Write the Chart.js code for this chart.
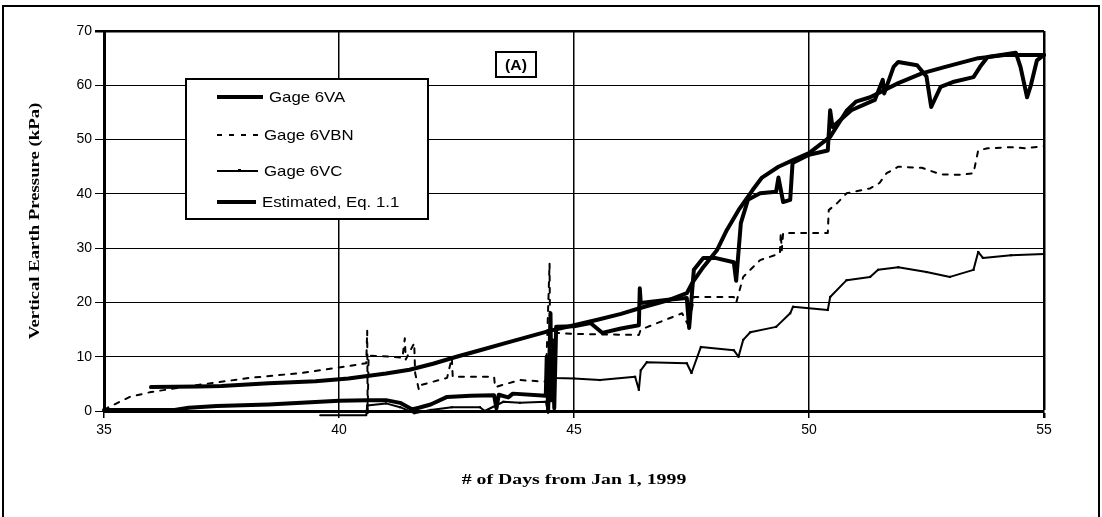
<!DOCTYPE html>
<html lang="en">
<head>
  <meta charset="UTF-8" />
  <title>Vertical Earth Pressure (A)</title>
  <script src="https://cdn.jsdelivr.net/npm/chart.js"></script>
  <style>
    body { margin: 0; background: #fff; }
    #wrap { width: 1102px; height: 517px; }
  </style>
</head>
<body>
  <div id="wrap"><canvas id="pressureChart" width="1102" height="517"></canvas></div>

  <script>
    // readings taken off the original plot: days from Jan 1 1999 / kPa
    const vaDays = [35.0, 36.5, 36.8, 37.4, 38.5, 39.2, 40.0, 40.6, 41.0, 41.3, 41.55, 41.7, 41.95, 42.3, 42.8, 43.3, 43.35, 43.4, 43.6, 43.7, 44.4, 44.42, 44.45, 44.5, 44.52, 44.55, 44.58, 44.62, 45.0, 45.35, 45.6, 46.0, 46.38, 46.4, 46.42, 47.0, 47.4, 47.45, 47.55, 47.75, 48.0, 48.4, 48.45, 48.55, 48.7, 48.96, 49.3, 49.35, 49.45, 49.6, 49.65, 50.0, 50.4, 50.45, 50.5, 50.9, 51.4, 51.57, 51.6, 51.8, 51.9, 52.3, 52.5, 52.6, 52.8, 53.06, 53.5, 53.64, 53.8, 54.4, 54.5, 54.64, 54.72, 54.85, 55.0];
    const vaKpa  = [0.2, 0.2, 0.6, 0.9, 1.2, 1.5, 1.9, 2.0, 2.0, 1.5, 0.3, 0.6, 1.2, 2.6, 2.8, 2.9, 0.5, 3.0, 2.5, 3.2, 2.8, 10, 0, 18, 2, 13, 0.5, 15.5, 15.6, 16.2, 14.4, 15.2, 15.8, 22.6, 19.9, 20.5, 20.8, 15.3, 26, 28.2, 28.2, 27.4, 24, 34.6, 38.9, 40.1, 40.4, 43, 38.5, 38.9, 45.7, 47.2, 48, 55.4, 52.3, 55.4, 57.3, 61, 58.5, 63.4, 64.3, 63.7, 61.6, 56, 59.7, 60.6, 61.5, 63.4, 65.2, 66, 63.4, 57.8, 60, 64.6, 65.6];

    const vbnDays = [35.0, 35.1, 35.55, 36.0, 37.0, 38.1, 39.2, 40.0, 40.58, 40.6, 40.61, 40.63, 41.1, 41.35, 41.4, 41.42, 41.6, 41.62, 41.7, 41.75, 42.3, 42.4, 42.42, 43.3, 43.32, 43.6, 43.85, 44.4, 44.48, 44.5, 44.6, 45.0, 46.38, 46.42, 47.3, 47.45, 47.55, 48.4, 48.45, 48.6, 48.75, 48.96, 49.38, 49.4, 49.42, 49.45, 50.4, 50.42, 50.6, 50.8, 51.3, 51.5, 51.65, 51.9, 52.4, 52.8, 53.2, 53.5, 53.6, 53.8, 54.3, 54.6, 55.0];
    const vbnKpa  = [0.2, 0.7, 2.6, 3.5, 4.8, 6.1, 7.0, 8.0, 8.8, 14.8, -0.5, 10.2, 10.0, 9.8, 13.4, 9.5, 12.5, 7.0, 3.9, 4.8, 6.1, 9.8, 6.3, 6.3, 4.4, 5.1, 5.7, 5.4, 27.2, 3, 14.4, 14.2, 14.0, 15, 18, 15.5, 21, 21, 19.9, 24.7, 26, 27.8, 29, 32.8, 29.6, 32.8, 32.8, 37, 38.3, 40.1, 41, 42, 43.8, 45, 44.8, 43.6, 43.5, 43.8, 48, 48.4, 48.6, 48.4, 48.8];

    const vcDays = [39.6, 40.58, 40.6, 41.0, 41.3, 41.6, 41.95, 42.4, 43.0, 43.1, 43.5, 43.85, 44.4, 44.45, 44.55, 44.6, 45.0, 45.55, 46.3, 46.38, 46.42, 46.55, 47.4, 47.5, 47.7, 48.4, 48.5, 48.6, 48.75, 49.3, 49.6, 49.66, 50.4, 50.45, 50.8, 51.3, 51.47, 51.9, 52.5, 53.0, 53.5, 53.6, 53.7, 54.3, 55.0];
    const vcKpa  = [-0.8, -0.8, 1.0, 1.4, 0.7, -0.4, 0.2, 0.7, 0.7, 0.0, 1.7, 1.5, 1.7, -0.3, 8, 6.1, 6.0, 5.7, 6.3, 3.9, 7.5, 9.0, 8.8, 7.0, 11.8, 11.2, 10.0, 13.1, 14.5, 15.5, 18, 19.2, 18.6, 21, 24.1, 24.7, 26, 26.5, 25.6, 24.7, 26, 29.3, 28.2, 28.7, 28.9];

    const estDays = [36.0, 37.0, 37.5, 38.5, 39.5, 40.2, 41.0, 41.5, 42.0, 42.5, 43.0, 43.5, 44.0, 44.5, 45.0, 45.5, 46.0, 46.5, 47.0, 47.4, 47.53, 47.75, 48.04, 48.25, 48.5, 48.8, 49.0, 49.35, 49.66, 50.0, 50.45, 50.8, 51.0, 51.3, 51.9, 52.4, 52.9, 53.6, 54.2, 55.0];
    const estKpa  = [4.4, 4.5, 4.6, 5.1, 5.5, 6.0, 6.9, 7.6, 8.7, 10.0, 11.2, 12.4, 13.6, 14.8, 15.8, 16.8, 17.9, 19.2, 20.4, 21.7, 23.8, 26.5, 29.6, 33.3, 37, 40.7, 43, 45, 46.2, 47.5, 50.5, 55.3, 57, 57.8, 60.4, 62.2, 63.4, 65.0, 65.6, 65.6];

    const seriesNames = ['Gage 6VA', 'Gage 6VBN', 'Gage 6VC', 'Estimated, Eq. 1.1'];
    const xTitle = '# of Days from Jan 1, 1999';
    const yTitle = 'Vertical Earth Pressure (kPa)';
    const panelTag = '(A)';

    function toPoints(days, vals) {
      return days.map((d, i) => ({ x: d, y: vals[i] }));
    }

    // the source chart's text is a bit wider than the fonts we have
    function wideText(ctx, text, x, y, stretch, angle) {
      ctx.save();
      ctx.translate(x, y);
      if (angle) ctx.rotate(angle);
      ctx.scale(stretch, 1);
      ctx.fillText(text, 0, 0);
      ctx.restore();
    }

    // legend box, axis titles, the (A) tag and the outer frame are drawn by hand
    const decorations = {
      id: 'decorations',
      afterDraw(chart) {
        const ctx = chart.ctx;
        const sets = chart.data.datasets;
        const area = chart.chartArea;
        ctx.save();
        ctx.strokeStyle = '#000';
        ctx.fillStyle = '#000';
        ctx.lineWidth = 2;
        ctx.strokeRect(3, 6, 1096, 520);

        // axis titles
        ctx.font = 'bold 15px "Liberation Serif", "Times New Roman", serif';
        ctx.textAlign = 'center';
        ctx.textBaseline = 'middle';
        wideText(ctx, xTitle, (area.left + area.right) / 2, 480, 1.32, 0);
        wideText(ctx, yTitle, 35, (area.top + area.bottom) / 2, 1.25, -Math.PI / 2);

        // legend
        ctx.fillStyle = '#fff';
        ctx.fillRect(186, 79, 242, 140);
        ctx.strokeRect(186, 79, 242, 140);

        const rows = [97, 135, 171, 202];
        const textX = [269, 264, 264, 262];
        ctx.font = '15px "Liberation Sans", Arial, sans-serif';
        ctx.textAlign = 'left';
        rows.forEach((y, i) => {
          const ds = sets[i];
          ctx.beginPath();
          ctx.lineWidth = ds.borderWidth;
          ctx.setLineDash(ds.borderDash || []);
          ctx.moveTo(217, y);
          ctx.lineTo(textX[i] - 6, y);
          ctx.stroke();
          ctx.setLineDash([]);
          ctx.fillStyle = '#000';
          if (ds.pointRadius > 0) ctx.fillRect(238, y - 2, 3, 3);
          wideText(ctx, ds.label, textX[i], y + 1, 1.12, 0);
        });

        // panel tag
        ctx.lineWidth = 2;
        ctx.strokeRect(496, 52, 40, 25);
        ctx.font = 'bold 15px "Liberation Sans", Arial, sans-serif';
        ctx.textAlign = 'center';
        wideText(ctx, panelTag, 516, 66, 1.05, 0);
        ctx.restore();
      }
    };

    const ctx = document.getElementById('pressureChart').getContext('2d');
    new Chart(ctx, {
      type: 'line',
      data: {
        datasets: [
          {
            label: seriesNames[0],
            data: toPoints(vaDays, vaKpa),
            borderColor: '#000',
            borderWidth: 4,
            pointRadius: 0
          },
          {
            label: seriesNames[1],
            data: toPoints(vbnDays, vbnKpa),
            borderColor: '#000',
            borderWidth: 2,
            borderDash: [5, 7],
            pointRadius: 0
          },
          {
            label: seriesNames[2],
            data: toPoints(vcDays, vcKpa),
            borderColor: '#000',
            borderWidth: 2,
            pointRadius: 1.5,
            pointStyle: 'rect',
            pointBackgroundColor: '#000',
            pointBorderWidth: 0
          },
          {
            label: seriesNames[3],
            data: toPoints(estDays, estKpa),
            borderColor: '#000',
            borderWidth: 4,
            pointRadius: 0
          }
        ]
      },
      options: {
        responsive: false,
        animation: false,
        clip: 8,
        layout: { padding: { left: 0, right: 58, top: 31, bottom: 0 } },
        elements: { line: { tension: 0, borderJoinStyle: 'round', borderCapStyle: 'round' } },
        plugins: {
          legend: { display: false },
          tooltip: { enabled: false }
        },
        scales: {
          x: {
            type: 'linear',
            min: 35,
            max: 55,
            afterFit: s => { s.height = 106; },
            ticks: {
              stepSize: 5,
              padding: 4,
              color: '#000',
              font: { family: '"Liberation Sans", Arial, sans-serif', size: 14 }
            },
            grid: {
              color: '#000',
              lineWidth: c => (c.tick && c.tick.value === 55 ? 2.5 : 1.5),
              tickLength: 7
            },
            border: { color: '#000', width: 3 }
          },
          y: {
            min: 0,
            max: 70,
            afterFit: s => { s.width = 104; },
            ticks: {
              stepSize: 10,
              padding: 3,
              color: '#000',
              font: { family: '"Liberation Sans", Arial, sans-serif', size: 14 }
            },
            grid: {
              color: '#000',
              lineWidth: c => (c.tick && c.tick.value === 70 ? 2.5 : 1),
              tickLength: 9
            },
            border: { color: '#000', width: 3 }
          }
        }
      },
      plugins: [decorations]
    });
  </script>
</body>
</html>
